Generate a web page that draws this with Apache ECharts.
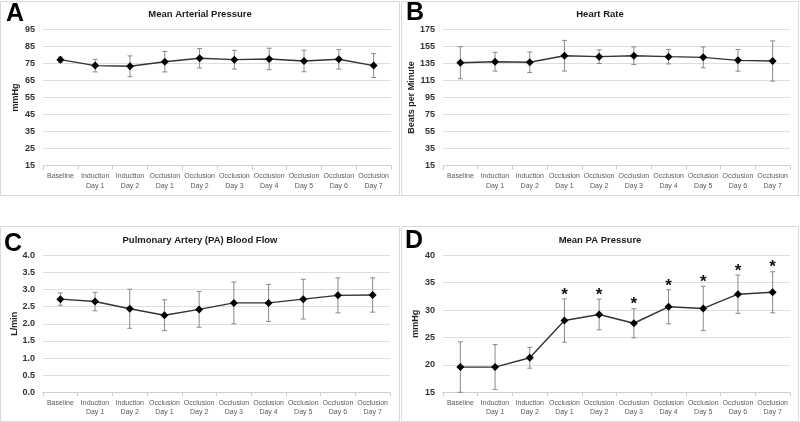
<!DOCTYPE html>
<html>
<head>
<meta charset="utf-8">
<script src="https://cdn.jsdelivr.net/npm/echarts@6/dist/echarts.min.js"></script>
<style>html,body{margin:0;padding:0;background:#fff;}#c{width:800px;height:422px;}</style>
</head>
<body>
<div id="c"></div>
<script>
var categories = ['Baseline','Induction\nDay 1','Induction\nDay 2','Occlusion\nDay 1','Occlusion\nDay 2','Occlusion\nDay 3','Occlusion\nDay 4','Occlusion\nDay 5','Occlusion\nDay 6','Occlusion\nDay 7'];

var mapMean = [77.2, 73.7, 73.3, 76.0, 78.0, 77.2, 77.6, 76.4, 77.4, 73.7];
var mapErr  = [1.5, 3.7, 6.1, 6.0, 5.7, 5.5, 6.3, 6.3, 5.7, 7.0];

var hrMean = [135.8, 137.0, 136.3, 144.0, 142.9, 144.0, 142.9, 142.1, 138.6, 137.8];
var hrErr  = [18.8, 11.0, 12.0, 18.0, 8.0, 10.4, 8.5, 12.3, 12.7, 23.6];

var flowMean = [2.72, 2.65, 2.44, 2.25, 2.42, 2.61, 2.61, 2.72, 2.83, 2.84];
var flowErr  = [0.18, 0.27, 0.57, 0.45, 0.52, 0.61, 0.54, 0.58, 0.51, 0.50];

var papMean = [19.6, 19.6, 21.3, 28.1, 29.2, 27.6, 30.6, 30.3, 32.9, 33.25];
var papErr  = [4.6, 4.1, 1.9, 3.95, 2.8, 2.65, 3.1, 4.05, 3.5, 3.75];
var papSig  = [0, 0, 0, 1, 1, 1, 1, 1, 1, 1];

var titles = ['Mean Arterial Pressure', 'Heart Rate', 'Pulmonary Artery (PA) Blood Flow', 'Mean PA Pressure'];
var yNames = ['mmHg', 'Beats per Minute', 'L/min', 'mmHg'];
var letters = ['A', 'B', 'C', 'D'];

var FONT = '"Liberation Sans", Arial, sans-serif';

var panels = [
  {mean: mapMean, err: mapErr, min: 15, max: 95, interval: 10, dec: 0, sig: null},
  {mean: hrMean, err: hrErr, min: 15, max: 175, interval: 20, dec: 0, sig: null},
  {mean: flowMean, err: flowErr, min: 0, max: 4, interval: 0.5, dec: 1, sig: null},
  {mean: papMean, err: papErr, min: 15, max: 40, interval: 5, dec: 0, sig: papSig}
];

var grids = [
  {left: 43, top: 29.3, width: 348, height: 136.4},
  {left: 443, top: 29.3, width: 347, height: 136.4},
  {left: 43, top: 255.3, width: 347, height: 137},
  {left: 443, top: 255.3, width: 347, height: 137}
];

function errRender(sig) {
  return function (params, api) {
    var x = api.value(0), lo = api.value(1), hi = api.value(2);
    var pHi = api.coord([x, hi]), pLo = api.coord([x, lo]);
    var st = {stroke: '#8a8a8a', lineWidth: 1};
    var ch = [
      {type: 'line', shape: {x1: pHi[0], y1: pHi[1], x2: pLo[0], y2: pLo[1]}, style: st},
      {type: 'line', shape: {x1: pHi[0] - 2.5, y1: pHi[1], x2: pHi[0] + 2.5, y2: pHi[1]}, style: st},
      {type: 'line', shape: {x1: pLo[0] - 2.5, y1: pLo[1], x2: pLo[0] + 2.5, y2: pLo[1]}, style: st}
    ];
    if (sig && sig[params.dataIndex]) {
      ch.push({type: 'text', x: pHi[0], y: pHi[1] - 4,
        style: {text: '*', fill: '#111', font: 'bold 17px ' + FONT, align: 'center', verticalAlign: 'middle'}});
    }
    return {type: 'group', children: ch};
  };
}

var option = {
  animation: false,
  backgroundColor: '#fff',
  grid: grids,
  xAxis: [],
  yAxis: [],
  series: [],
  graphic: []
};

var boxes = [[0.5, 1.5, 399, 194], [401.5, 1.5, 397, 194], [0.5, 226.5, 399, 195], [401.5, 226.5, 397, 195]];
var letterPos = [[6, 14], [406, 13.5], [4, 244], [405, 241.5]];
var titlePos = [[200, 14], [600, 14], [200, 240], [600, 240]];

panels.forEach(function (p, i) {
  option.xAxis.push({
    type: 'category', gridIndex: i, data: categories, boundaryGap: true,
    axisLine: {lineStyle: {color: '#cfcfcf', width: 1}},
    axisTick: {show: true, length: 4, lineStyle: {color: '#cfcfcf'}},
    axisLabel: {interval: 0, color: '#595959', fontSize: 7, fontFamily: FONT, lineHeight: 9.3, margin: 6}
  });
  option.yAxis.push({
    type: 'value', gridIndex: i, min: p.min, max: p.max, interval: p.interval,
    name: yNames[i], nameLocation: 'middle', nameGap: 23, nameRotate: 90,
    nameTextStyle: {fontSize: 9, fontWeight: 'bold', color: '#262626', fontFamily: FONT},
    axisLine: {show: false}, axisTick: {show: false},
    axisLabel: {color: '#333', fontSize: 9, fontWeight: 'bold', fontFamily: FONT, margin: 8,
      formatter: (function (d) { return function (v) { return v.toFixed(d); }; })(p.dec)},
    splitLine: {lineStyle: {color: '#dedede', width: 1}}
  });
  var errData = p.mean.map(function (m, k) { return [k, m - p.err[k], m + p.err[k]]; });
  option.series.push({
    type: 'custom', xAxisIndex: i, yAxisIndex: i, data: errData,
    encode: {x: 0, y: [1, 2]}, renderItem: errRender(p.sig), z: 2, silent: true
  });
  option.series.push({
    type: 'line', xAxisIndex: i, yAxisIndex: i, data: p.mean,
    symbol: 'diamond', symbolSize: 8, itemStyle: {color: '#000'},
    lineStyle: {color: '#333', width: 1.4}, z: 3
  });
  option.graphic.push({
    type: 'rect', shape: {x: boxes[i][0], y: boxes[i][1], width: boxes[i][2], height: boxes[i][3]},
    style: {fill: 'none', stroke: '#d9d9d9', lineWidth: 1}, silent: true, z: -1
  });
  option.graphic.push({
    type: 'text', x: letterPos[i][0], y: letterPos[i][1],
    style: {text: letters[i], font: 'bold 25px ' + FONT, fill: '#000', align: 'left', verticalAlign: 'middle'}
  });
  option.graphic.push({
    type: 'text', x: titlePos[i][0], y: titlePos[i][1],
    style: {text: titles[i], font: 'bold 9.5px ' + FONT, fill: '#1a1a1a', align: 'center', verticalAlign: 'middle'}
  });
});

var chart = echarts.init(document.getElementById('c'), null, {renderer: 'canvas'});
chart.setOption(option);
</script>
</body>
</html>
